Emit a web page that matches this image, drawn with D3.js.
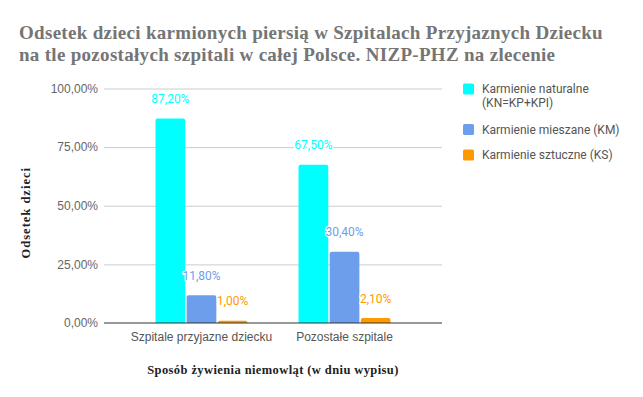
<!DOCTYPE html>
<html>
<head>
<meta charset="utf-8">
<script src="https://cdn.jsdelivr.net/npm/d3@7"></script>
<style>
  body { margin: 0; background: #fff; }
  svg { display: block; font-family: Roboto, sans-serif; }
  .grid line { stroke: #cccccc; }
  .grid .domain { display: none; }
  .y-axis text { fill: #666; font-size: 12px; }
  .x-axis text { fill: #555; font-size: 12px; }
  .title { font-family: 'Liberation Serif', serif; font-weight: bold; fill: #757575; font-size: 19px; letter-spacing: 0.3px; }
  .axis-title { font-family: 'Liberation Serif', serif; font-weight: bold; fill: #222; font-size: 12.5px; }
  .bar-label { font-size: 12px; paint-order: stroke; stroke: #fff; stroke-width: 2.5px; }
  .legend text { fill: #555; font-size: 12px; }
</style>
</head>
<body>
<div id="chart"></div>
<script>
const categories = ['Szpitale przyjazne dziecku', 'Pozostałe szpitale'];
const seriesNames = ['Karmienie naturalne (KN=KP+KPI)', 'Karmienie mieszane (KM)', 'Karmienie sztuczne (KS)'];
const naturalne = [87.2, 67.5];
const mieszane = [11.8, 30.4];
const sztuczne = [1.0, 2.1];
const yTicks = [0, 25, 50, 75, 100];
const colors = ['#00ffff', '#6d9eeb', '#ff9900'];

const width = 643, height = 397;
const plot = {left: 104, right: 442, top: 88.5, bottom: 323};

const fmt = v => d3.format('.2f')(v).replace('.', ',') + '%';

const svg = d3.select('#chart').append('svg')
    .attr('width', width)
    .attr('height', height);

// title
const title = svg.append('text').attr('class', 'title');
title.append('tspan').attr('x', 19).attr('y', 38.5)
    .text('Odsetek dzieci karmionych piersią w Szpitalach Przyjaznych Dziecku');
title.append('tspan').attr('x', 19).attr('y', 60.5)
    .text('na tle pozostałych szpitali w całej Polsce. NIZP-PHZ na zlecenie');

let x0 = d3.scaleBand().domain(categories)
    .range([plot.left, plot.right])
    .paddingInner(0.357).paddingOuter(0.36);
let x1 = d3.scaleBand().domain(d3.range(seriesNames.length))
    .range([0, x0.bandwidth()])
    .paddingInner(0.045);
let y = d3.scaleLinear().domain([0, 100]).range([plot.bottom, plot.top]);

// gridlines + y labels
svg.append('g')
    .attr('class', 'grid')
    .attr('transform', 'translate(' + plot.left + ',0)')
    .call(d3.axisLeft(y).tickValues(yTicks.slice(1)).tickSize(-(plot.right - plot.left)).tickFormat(''));

svg.append('g')
    .attr('class', 'y-axis')
    .attr('transform', 'translate(' + plot.left + ',0)')
    .call(d3.axisLeft(y).tickValues(yTicks).tickSize(0).tickPadding(6).tickFormat(fmt))
    .call(g => g.select('.domain').remove());

// bars
const series = [naturalne, mieszane, sztuczne];
const rows = [];
categories.forEach((c, i) => {
    series.forEach((s, j) => rows.push({cat: c, s: j, value: s[i]}));
});

const r = 2;
function barPath(d) {
    let bx = x0(d.cat) + x1(d.s), bw = x1.bandwidth();
    let top = y(d.value), bottom = y(0);
    let rr = Math.min(r, (bottom - top));
    return 'M' + bx + ',' + bottom
        + 'V' + (top + rr)
        + 'Q' + bx + ',' + top + ' ' + (bx + rr) + ',' + top
        + 'H' + (bx + bw - rr)
        + 'Q' + (bx + bw) + ',' + top + ' ' + (bx + bw) + ',' + (top + rr)
        + 'V' + bottom + 'Z';
}

svg.append('g').selectAll('path').data(rows)
    .enter()
    .append('path')
    .attr('d', barPath)
    .attr('fill', d => colors[d.s]);

svg.append('g').selectAll('text').data(rows)
    .enter()
    .append('text')
    .attr('class', 'bar-label')
    .attr('x', d => x0(d.cat) + x1(d.s) + x1.bandwidth() / 2)
    .attr('y', d => y(d.value) - 15.5)
    .attr('text-anchor', 'middle')
    .attr('fill', d => colors[d.s])
    .text(d => fmt(d.value));

// baseline
svg.append('line')
    .attr('x1', plot.left).attr('x2', plot.right)
    .attr('y1', y(0)).attr('y2', y(0))
    .attr('stroke', '#333').attr('stroke-width', 1.2);

// x axis labels
svg.append('g')
    .attr('class', 'x-axis')
    .attr('transform', 'translate(0,' + y(0) + ')')
    .call(d3.axisBottom(x0).tickSize(0).tickPadding(9))
    .call(g => g.select('.domain').remove());

// axis titles
svg.append('text')
    .attr('class', 'axis-title')
    .attr('text-anchor', 'middle')
    .attr('x', (plot.left + plot.right) / 2)
    .attr('y', 374)
    .style('letter-spacing', '0.4px')
    .text('Sposób żywienia niemowląt (w dniu wypisu)');

svg.append('text')
    .attr('class', 'axis-title')
    .attr('text-anchor', 'middle')
    .attr('transform', 'translate(30,' + ((plot.top + plot.bottom) / 2 + 7) + ') rotate(-90)')
    .style('letter-spacing', '1px')
    .text('Odsetek dzieci');

// legend
const legendY = [89, 129.5, 155];
const legend = svg.append('g').attr('class', 'legend');
seriesNames.forEach((name, i) => {
    let g = legend.append('g').attr('transform', 'translate(463,' + legendY[i] + ')');
    g.append('rect')
        .attr('x', 0).attr('y', -5.5)
        .attr('width', 11).attr('height', 11)
        .attr('rx', 1.5)
        .attr('fill', colors[i]);
    if (i === 0) {
        let t = g.append('text').attr('x', 19).attr('y', 4);
        t.append('tspan').attr('x', 19).attr('dy', 0).text('Karmienie naturalne');
        t.append('tspan').attr('x', 19).attr('dy', 14).text('(KN=KP+KPI)');
    } else {
        g.append('text').attr('x', 19).attr('y', 4).text(name);
    }
});
</script>
</body>
</html>
